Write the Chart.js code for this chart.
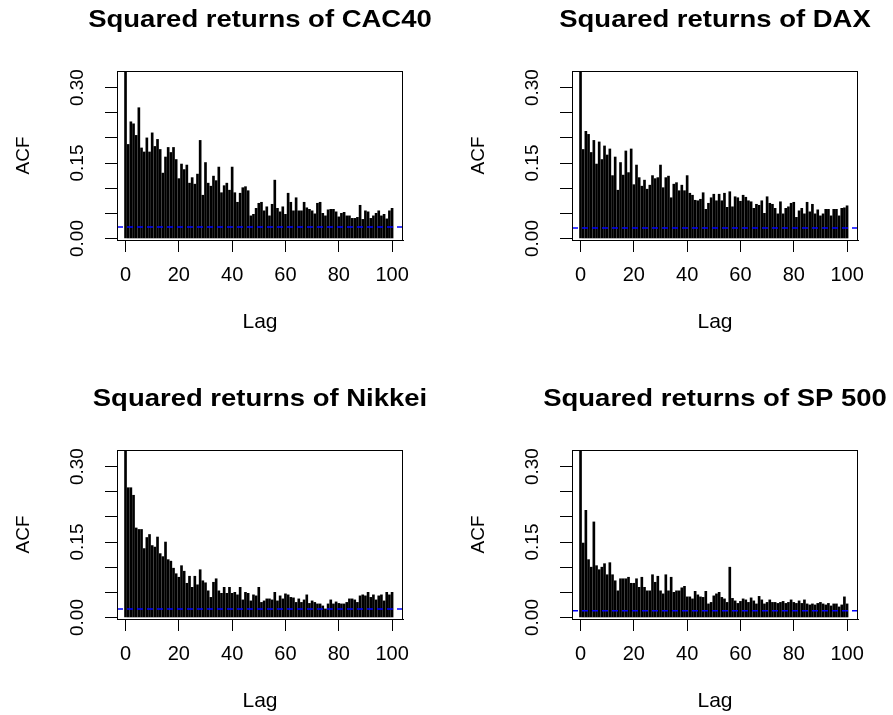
<!DOCTYPE html>
<html><head><meta charset="utf-8">
<script src="https://cdn.jsdelivr.net/npm/chart.js@4.4.1/dist/chart.umd.min.js"></script>
<style>
html,body{margin:0;padding:0;background:#fff;width:893px;height:715px;overflow:hidden;position:relative}
canvas{position:absolute}
</style></head><body>
<canvas id="c1" width="446" height="336" style="left:0px;top:0px"></canvas>
<canvas id="c2" width="438" height="336" style="left:455px;top:0px"></canvas>
<canvas id="c3" width="446" height="336" style="left:0px;top:379px"></canvas>
<canvas id="c4" width="438" height="336" style="left:455px;top:379px"></canvas>
<script>
// ---- data ----
const titles = ['Squared returns of CAC40', 'Squared returns of DAX', 'Squared returns of Nikkei', 'Squared returns of SP 500'];
const lags = Array.from({length: 101}, (_, i) => i);
const cac40 = [1,
0.187,0.232,0.228,0.205,0.260,0.180,0.172,0.200,0.172,0.210,
0.183,0.197,0.177,0.130,0.162,0.181,0.171,0.181,0.157,0.119,
0.148,0.137,0.146,0.110,0.121,0.108,0.128,0.195,0.086,0.151,
0.110,0.104,0.124,0.115,0.142,0.091,0.105,0.110,0.096,0.142,
0.091,0.072,0.090,0.101,0.103,0.095,0.045,0.048,0.060,0.070,
0.072,0.055,0.063,0.045,0.068,0.116,0.060,0.053,0.063,0.048,
0.090,0.072,0.055,0.081,0.055,0.055,0.072,0.061,0.058,0.055,
0.049,0.070,0.072,0.050,0.045,0.057,0.058,0.058,0.053,0.043,
0.050,0.052,0.045,0.045,0.040,0.040,0.042,0.066,0.038,0.055,
0.053,0.040,0.045,0.050,0.055,0.045,0.048,0.039,0.055,0.060];
const dax = [1,
0.177,0.213,0.207,0.171,0.195,0.148,0.192,0.157,0.184,0.166,
0.178,0.125,0.162,0.096,0.151,0.126,0.174,0.131,0.178,0.107,
0.146,0.121,0.104,0.116,0.098,0.106,0.125,0.119,0.121,0.146,
0.101,0.121,0.124,0.081,0.108,0.111,0.095,0.106,0.095,0.125,
0.090,0.086,0.076,0.075,0.078,0.091,0.058,0.070,0.081,0.088,
0.075,0.088,0.075,0.090,0.062,0.093,0.063,0.083,0.081,0.074,
0.086,0.082,0.075,0.073,0.060,0.068,0.066,0.075,0.050,0.083,
0.070,0.068,0.060,0.049,0.073,0.049,0.060,0.063,0.070,0.072,
0.042,0.055,0.060,0.049,0.072,0.053,0.068,0.049,0.057,0.045,
0.049,0.058,0.058,0.045,0.058,0.058,0.045,0.060,0.061,0.065];
const nikkei = [1,
0.258,0.258,0.243,0.178,0.175,0.175,0.137,0.159,0.165,0.143,
0.140,0.160,0.127,0.121,0.150,0.115,0.112,0.098,0.087,0.080,
0.103,0.092,0.068,0.082,0.060,0.082,0.065,0.095,0.073,0.069,
0.053,0.040,0.070,0.077,0.053,0.048,0.060,0.048,0.060,0.048,
0.050,0.045,0.060,0.035,0.050,0.048,0.033,0.045,0.043,0.060,
0.030,0.033,0.037,0.037,0.035,0.050,0.033,0.043,0.037,0.047,
0.045,0.040,0.039,0.030,0.037,0.030,0.035,0.045,0.028,0.033,
0.030,0.027,0.027,0.023,0.017,0.027,0.035,0.027,0.031,0.028,
0.027,0.027,0.030,0.037,0.037,0.035,0.030,0.043,0.045,0.043,
0.050,0.040,0.045,0.035,0.043,0.045,0.033,0.050,0.045,0.050];
const sp500 = [1,
0.148,0.213,0.115,0.100,0.190,0.103,0.095,0.100,0.107,0.085,
0.109,0.085,0.073,0.053,0.077,0.077,0.077,0.080,0.068,0.068,
0.077,0.060,0.080,0.060,0.053,0.053,0.085,0.070,0.082,0.053,
0.047,0.085,0.053,0.080,0.050,0.053,0.053,0.059,0.062,0.041,
0.041,0.037,0.052,0.045,0.041,0.040,0.052,0.027,0.030,0.043,
0.047,0.050,0.040,0.037,0.030,0.100,0.038,0.033,0.028,0.032,
0.037,0.035,0.030,0.039,0.033,0.027,0.042,0.035,0.027,0.030,
0.035,0.030,0.030,0.028,0.030,0.032,0.028,0.030,0.035,0.030,
0.028,0.033,0.028,0.035,0.027,0.025,0.027,0.025,0.028,0.030,
0.027,0.025,0.028,0.023,0.027,0.027,0.021,0.025,0.041,0.027];
const confLimits = [0.0228, 0.0208, 0.0167, 0.0133];
const xTicks = [0, 20, 40, 60, 80, 100];
const xTickLabels = ['0', '20', '40', '60', '80', '100'];
const yTicks = [0, 0.05, 0.10, 0.15, 0.20, 0.25, 0.30];
const yTickLabels = ['0.00', '', '', '0.15', '', '', '0.30'];
const xLabel = 'Lag';
const yLabel = 'ACF';

// ---- drawing ----
const FONT = '"Liberation Sans", Arial, sans-serif';
const X_MIN = -3.2, X_MAX = 104.1, Y_MIN = -0.003, Y_MAX = 0.333;

const boxPlugin = {
  id: 'rbox',
  afterDraw(chart) {
    const a = chart.chartArea, ctx = chart.ctx;
    ctx.save();
    ctx.strokeStyle = '#000';
    ctx.lineWidth = 1;
    ctx.strokeRect(Math.round(a.left) + 0.5, Math.round(a.top) + 0.5,
                   Math.round(a.right - a.left) - 1, Math.round(a.bottom - a.top));
    ctx.restore();
  }
};
const titlePlugin = {
  id: 'mainTitle',
  afterDraw(chart, args, opts) {
    const a = chart.chartArea, ctx = chart.ctx;
    ctx.save();
    ctx.font = 'bold 24px ' + FONT;
    ctx.fillStyle = '#000';
    ctx.textAlign = 'center';
    ctx.textBaseline = 'alphabetic';
    ctx.translate((a.left + a.right) / 2, 26.5);
    ctx.scale(1.145, 1);
    ctx.fillText(opts.text, 0, 0);
    ctx.restore();
  }
};

function makeChart(id, title, values, clim, cw) {
  const ctx = document.getElementById(id);
  return new Chart(ctx, {
    type: 'bar',
    data: {
      datasets: [
        {
          type: 'bar',
          data: lags.map((l, i) => ({x: l, y: values[i]})),
          backgroundColor: '#000',
          borderWidth: 0,
          barThickness: 2,
          order: 2
        },
        {
          type: 'line',
          data: [{x: X_MIN, y: clim}, {x: X_MAX, y: clim}],
          borderColor: '#0000ff',
          borderWidth: 1.5,
          borderDash: [6, 4],
          pointRadius: 0,
          fill: false,
          order: 1
        }
      ]
    },
    options: {
      responsive: false,
      animation: false,
      devicePixelRatio: 1,
      events: [],
      layout: {padding: {left: 0, top: 71, right: cw - 403, bottom: 0}},
      plugins: {
        legend: {display: false},
        tooltip: {enabled: false},
        mainTitle: {text: title}
      },
      scales: {
        x: {
          type: 'linear', min: X_MIN, max: X_MAX, offset: false, bounds: 'data',
          afterBuildTicks: s => { s.ticks = xTicks.map(v => ({value: v})); },
          afterFit: s => { s.height = 96; },
          grid: {display: true, drawOnChartArea: false, drawTicks: true, tickLength: 12, color: '#000', offset: false},
          border: {display: true, color: '#000'},
          ticks: {autoSkip: false, maxRotation: 0, minRotation: 0, padding: 11, color: '#000',
                  font: {family: FONT, size: 20}, callback: (v, i) => xTickLabels[i]},
          title: {display: true, text: xLabel, color: '#000', font: {family: FONT, size: 21},
                  padding: {top: 0, bottom: 1}}
        },
        y: {
          type: 'linear', min: Y_MIN, max: Y_MAX, bounds: 'data',
          afterBuildTicks: s => { s.ticks = yTicks.map(v => ({value: v})); },
          afterFit: s => { s.width = 117; },
          grid: {display: true, drawOnChartArea: false, drawTicks: true, tickLength: 12, color: '#000'},
          border: {display: true, color: '#000'},
          ticks: {autoSkip: false, minRotation: 90, maxRotation: 90, crossAlign: 'center', padding: 8.5,
                  color: '#000', font: {family: FONT, size: 19}, callback: (v, i) => yTickLabels[i]},
          title: {display: true, text: yLabel, color: '#000', font: {family: FONT, size: 19},
                  padding: {top: 12, bottom: 0}}
        }
      }
    },
    plugins: [boxPlugin, titlePlugin]
  });
}

makeChart('c1', titles[0], cac40, confLimits[0], 446);
makeChart('c2', titles[1], dax, confLimits[1], 438);
makeChart('c3', titles[2], nikkei, confLimits[2], 446);
makeChart('c4', titles[3], sp500, confLimits[3], 438);
</script>
</body></html>
